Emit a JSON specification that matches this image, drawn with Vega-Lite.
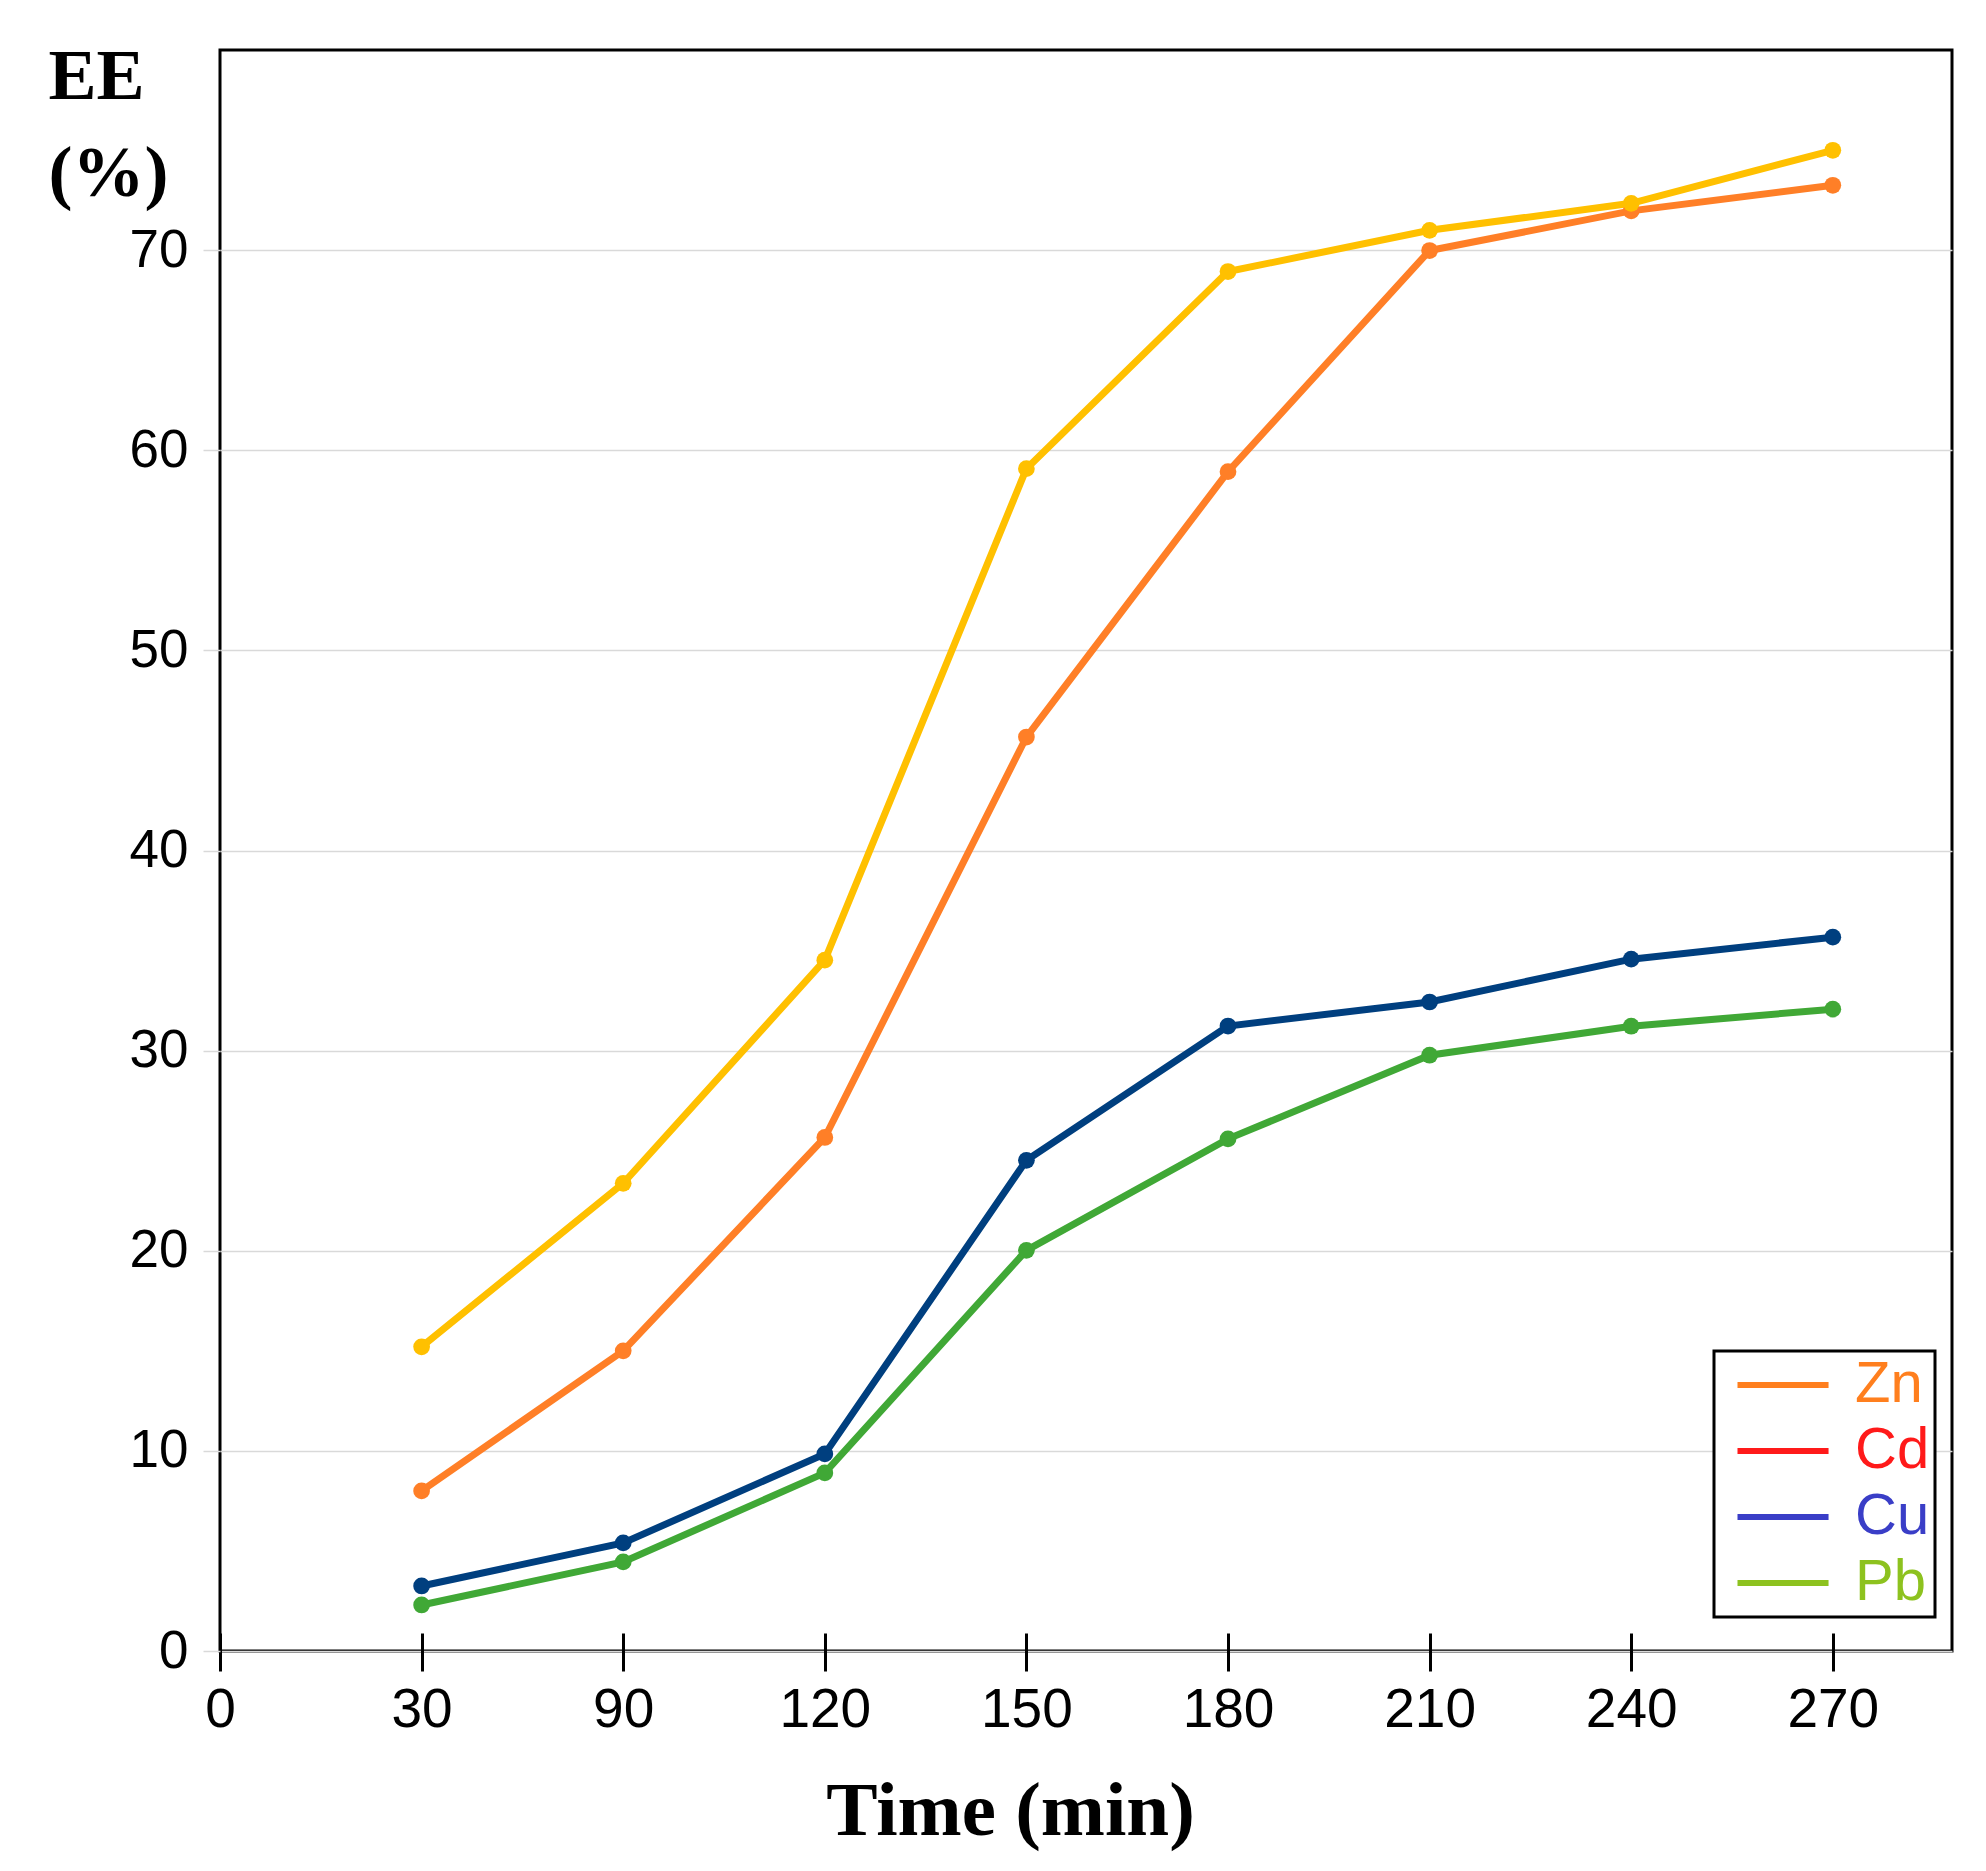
{
  "$schema": "https://vega.github.io/schema/vega-lite/v6.json",
  "autosize": {"type": "none"},
  "padding": {"left": 220, "top": 50, "right": 34, "bottom": 220},
  "width": 1732,
  "height": 1601,
  "background": "white",
  "config": {
    "view": {"stroke": "black", "strokeWidth": 3},
    "axis": {"labelFont": "Liberation Sans", "labelColor": "black", "titleColor": "black"}
  },
  "data": {
    "values": [
      {"time": 30, "metal": "Zn", "ee": 8.0},
      {"time": 90, "metal": "Zn", "ee": 15.0},
      {"time": 120, "metal": "Zn", "ee": 25.66},
      {"time": 150, "metal": "Zn", "ee": 45.67},
      {"time": 180, "metal": "Zn", "ee": 58.93},
      {"time": 210, "metal": "Zn", "ee": 69.98},
      {"time": 240, "metal": "Zn", "ee": 71.96},
      {"time": 270, "metal": "Zn", "ee": 73.24},
      {"time": 30, "metal": "Cd", "ee": 15.2},
      {"time": 90, "metal": "Cd", "ee": 23.37},
      {"time": 120, "metal": "Cd", "ee": 34.52},
      {"time": 150, "metal": "Cd", "ee": 59.08},
      {"time": 180, "metal": "Cd", "ee": 68.93},
      {"time": 210, "metal": "Cd", "ee": 70.99},
      {"time": 240, "metal": "Cd", "ee": 72.34},
      {"time": 270, "metal": "Cd", "ee": 74.99},
      {"time": 30, "metal": "Cu", "ee": 3.25},
      {"time": 90, "metal": "Cu", "ee": 5.4},
      {"time": 120, "metal": "Cu", "ee": 9.85},
      {"time": 150, "metal": "Cu", "ee": 24.52},
      {"time": 180, "metal": "Cu", "ee": 31.23},
      {"time": 210, "metal": "Cu", "ee": 32.43},
      {"time": 240, "metal": "Cu", "ee": 34.57},
      {"time": 270, "metal": "Cu", "ee": 35.67},
      {"time": 30, "metal": "Pb", "ee": 2.3},
      {"time": 90, "metal": "Pb", "ee": 4.45},
      {"time": 120, "metal": "Pb", "ee": 8.9},
      {"time": 150, "metal": "Pb", "ee": 20.02},
      {"time": 180, "metal": "Pb", "ee": 25.59},
      {"time": 210, "metal": "Pb", "ee": 29.77},
      {"time": 240, "metal": "Pb", "ee": 31.22},
      {"time": 270, "metal": "Pb", "ee": 32.07}
    ]
  },
  "encoding": {
    "x": {
      "field": "time",
      "type": "ordinal",
      "scale": {"type": "point", "domain": [0, 30, 90, 120, 150, 180, 210, 240, 270], "padding": 0.2956, "align": 0},
      "axis": {
        "title": "Time (min)",
        "titleFont": "Liberation Serif",
        "titleFontWeight": "bold",
        "titleFontSize": 77,
        "titleX": 790,
        "titleY": 201,
        "titleAlign": "center",
        "titleBaseline": "alphabetic",
        "labelAngle": 0,
        "labelFontSize": 55,
        "labelPadding": 12,
        "labelOverlap": false,
        "domain": false,
        "offset": -18,
        "ticks": true,
        "tickSize": 38,
        "tickWidth": 3,
        "tickColor": "black",
        "grid": false
      }
    },
    "y": {
      "field": "ee",
      "type": "quantitative",
      "scale": {"domain": [0, 80], "nice": false, "zero": true},
      "axis": {
        "title": ["EE", "(%)"],
        "titleFont": "Liberation Serif",
        "titleFontWeight": "bold",
        "titleFontSize": 72,
        "titleLineHeight": 97,
        "titleAngle": 0,
        "titleAlign": "left",
        "titleBaseline": "alphabetic",
        "titleX": -172,
        "titleY": 48,
        "values": [0, 10, 20, 30, 40, 50, 60, 70],
        "labelFontSize": 53,
        "labelPadding": 15,
        "tickSize": 17,
        "tickColor": "#d9d9d9",
        "tickWidth": 1.5,
        "grid": true,
        "gridColor": "#d9d9d9",
        "gridWidth": 1.5,
        "domain": false
      }
    }
  },
  "layer": [
    {
      "mark": {"type": "line", "strokeWidth": 6, "opacity": 0},
      "encoding": {
        "color": {
          "field": "metal",
          "type": "nominal",
          "scale": {"domain": ["Zn", "Cd", "Cu", "Pb"], "range": ["#FF7F1E", "#FF1A1A", "#3A3EC7", "#8DC21F"]},
          "legend": {
            "title": null,
            "orient": "none",
            "legendX": 1494,
            "legendY": 1301,
            "symbolType": "M-0.467,0H3.58",
            "symbolSize": 2025,
            "symbolStrokeWidth": 6,
            "symbolOpacity": 1,
            "labelFont": "Liberation Sans",
            "labelFontSize": 58,
            "labelOffset": 78,
            "padding": 5,
            "rowPadding": 8,
            "strokeColor": "black",
            "fillColor": "white",
            "encode": {
              "legend": {"update": {"strokeWidth": {"value": 3}}},
              "symbols": {"update": {"opacity": {"value": 1}, "strokeOpacity": {"value": 1}}},
              "labels": {"update": {"fill": {"scale": "color", "field": "value"}}}
            }
          }
        }
      }
    },
    {
      "mark": {"type": "line", "strokeWidth": 7},
      "encoding": {
        "stroke": {
          "field": "metal",
          "type": "nominal",
          "scale": {"domain": ["Zn", "Cd", "Cu", "Pb"], "range": ["#FF7F27", "#FFC000", "#003F7F", "#40A836"]},
          "legend": null
        }
      }
    },
    {
      "mark": {"type": "circle", "size": 280, "opacity": 1},
      "encoding": {
        "fill": {
          "field": "metal",
          "type": "nominal",
          "scale": {"domain": ["Zn", "Cd", "Cu", "Pb"], "range": ["#FF7F27", "#FFC000", "#003F7F", "#40A836"]},
          "legend": null
        }
      }
    }
  ]
}
